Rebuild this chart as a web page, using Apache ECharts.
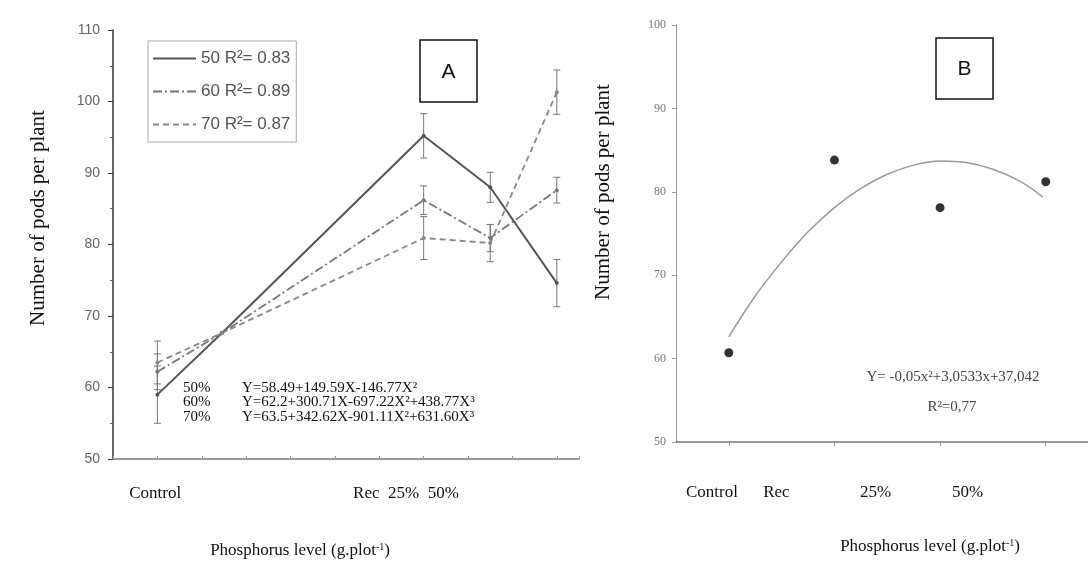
<!DOCTYPE html>
<html>
<head>
<meta charset="utf-8">
<script src="https://cdn.jsdelivr.net/npm/echarts@6/dist/echarts.min.js"></script>
<style>
  html, body { margin: 0; padding: 0; background: #fff; }
  #chart-panel { width: 1088px; height: 567px; }
</style>
</head>
<body>
<div id="chart-panel"></div>
<script>
// panel A : pods per plant for 50 / 60 / 70 % levels
var seriesNamesA = ['50 R\u00b2= 0.83', '60 R\u00b2= 0.89', '70 R\u00b2= 0.87'];
var xPosA = [1, 2.45, 7, 8.5, 10];
var pods50 = [59.0, 67.6, 95.2, 88.0, 74.6];
var pods60 = [62.2, 67.6, 86.2, 80.9, 87.6];
var pods70 = [63.5, 67.6, 80.9, 80.2, 101.3];
var err50 = [4.0, 0, 3.1, 2.1, 3.3];
var err60 = [2.5, 0, 2.0, 1.9, 1.8];
var err70 = [3.0, 0, 3.0, 2.6, 3.1];
var xLabelsA = ['Control', 'Rec  25%  50%'];
var xLabelPosA = [0.95, 6.6];
var equationsA = [
    ['50%', 'Y=58.49+149.59X-146.77X\u00b2'],
    ['60%', 'Y=62.2+300.71X-697.22X\u00b2+438.77X\u00b3'],
    ['70%', 'Y=63.5+342.62X-901.11X\u00b2+631.60X\u00b3']
];

var xPosB = [0, 1, 2, 3];
var podsB = [60.7, 83.8, 78.1, 81.2];
var curveX = [0, 0.25, 0.5, 0.75, 1.0, 1.25, 1.5, 1.75, 2.0, 2.25, 2.5, 2.75, 2.97];
var curveY = [62.6, 67.5, 71.6, 75.2, 78.1, 80.4, 82.1, 83.2, 83.7, 83.5, 82.7, 81.3, 79.4];
var xLabelsB = ['Control', 'Rec', '25%', '50%'];
var xLabelPosB = [-0.16, 0.45, 1.39, 2.26];

var myChart = echarts.init(document.getElementById('chart-panel'));

function pairs(xs, ys) {
    return xs.map(function (x, i) { return [x, ys[i]]; });
}
function errData(xs, ys, es) {
    var out = [];
    xs.forEach(function (x, i) {
        if (es[i] > 0) out.push([x, ys[i] - es[i], ys[i] + es[i]]);
    });
    return out;
}
function renderErr(params, api) {
    var x = api.value(0);
    var top = api.coord([x, api.value(2)]);
    var bot = api.coord([x, api.value(1)]);
    var w = 3.5;
    var st = { stroke: '#777', lineWidth: 1 };
    return {
        type: 'group',
        children: [
            { type: 'line', shape: { x1: top[0], y1: top[1], x2: bot[0], y2: bot[1] }, style: st },
            { type: 'line', shape: { x1: top[0] - w, y1: top[1], x2: top[0] + w, y2: top[1] }, style: st },
            { type: 'line', shape: { x1: bot[0] - w, y1: bot[1], x2: bot[0] + w, y2: bot[1] }, style: st }
        ]
    };
}

var lineStyles = [
    { color: '#555', width: 2, type: 'solid' },
    { color: '#777', width: 1.8, type: [9, 3, 2, 3] },
    { color: '#888', width: 1.8, type: [6, 4] }
];
var valuesA = [pods50, pods60, pods70];
var errsA = [err50, err60, err70];

var seriesA = [];
seriesNamesA.forEach(function (name, i) {
    seriesA.push({
        name: name,
        type: 'line',
        xAxisIndex: 0,
        yAxisIndex: 0,
        data: pairs(xPosA, valuesA[i]),
        symbol: 'circle',
        symbolSize: 4,
        itemStyle: { color: lineStyles[i].color },
        lineStyle: lineStyles[i],
        z: 3
    });
    seriesA.push({
        type: 'custom',
        xAxisIndex: 0,
        yAxisIndex: 0,
        data: errData(xPosA, valuesA[i], errsA[i]),
        encode: { x: 0, y: [1, 2] },
        renderItem: renderErr,
        z: 2
    });
});

var eqChildren = [
    { type: 'rect', shape: { x: 178, y: 377, width: 300, height: 48 }, style: { fill: '#fff' } }
];
equationsA.forEach(function (row, i) {
    var y = 388 + i * 14.5;
    var font = { fontFamily: 'Liberation Serif', fontSize: 15, fill: '#111', textVerticalAlign: 'middle' };
    eqChildren.push({ type: 'text', x: 183, y: y, style: Object.assign({ text: row[0] }, font) });
    eqChildren.push({ type: 'text', x: 242, y: y, style: Object.assign({ text: row[1] }, font) });
});

var titleFont = { fontFamily: 'Liberation Serif', fill: '#111', textAlign: 'center', textVerticalAlign: 'middle' };
var supRich = { s: { fontSize: 10, verticalAlign: 'top', fontFamily: 'Liberation Serif' } };

var option = {
    backgroundColor: '#fff',
    animation: false,
    grid: [
        { left: 113, top: 30, width: 466, height: 429 },
        { left: 676, top: 25, width: 412, height: 417 }
    ],
    legend: {
        data: seriesNamesA,
        orient: 'vertical',
        left: 148,
        top: 41,
        padding: [9, 6, 9, 4],
        itemWidth: 43,
        itemHeight: 14,
        itemGap: 16,
        borderColor: '#aaa',
        borderWidth: 1,
        itemStyle: { opacity: 0 },
        textStyle: { fontFamily: 'Liberation Sans', fontSize: 17, color: '#555' }
    },
    xAxis: [
        {
            type: 'value', gridIndex: 0, min: 0, max: 10.5, interval: 1,
            axisLine: { onZero: false, lineStyle: { color: '#999', width: 2 } },
            axisTick: { inside: true, length: 3, lineStyle: { color: '#999' } },
            splitLine: { show: false },
            axisLabel: {
                customValues: xLabelPosA,
                margin: 26,
                fontFamily: 'Liberation Serif',
                fontSize: 17,
                color: '#111',
                formatter: function (v) {
                    var i = xLabelPosA.indexOf(v);
                    return i >= 0 ? xLabelsA[i] : '';
                }
            }
        },
        {
            type: 'value', gridIndex: 1, min: -0.5, max: 3.4,
            axisLine: { onZero: false, lineStyle: { color: '#777', width: 1.5 } },
            axisTick: { customValues: xPosB, length: 4, lineStyle: { color: '#999' } },
            splitLine: { show: false },
            axisLabel: {
                customValues: xLabelPosB,
                margin: 42,
                fontFamily: 'Liberation Serif',
                fontSize: 17,
                color: '#111',
                formatter: function (v) {
                    var i = xLabelPosB.indexOf(v);
                    return i >= 0 ? xLabelsB[i] : '';
                }
            }
        }
    ],
    yAxis: [
        {
            type: 'value', gridIndex: 0, min: 50, max: 110, interval: 10,
            axisLine: { show: true, onZero: false, lineStyle: { color: '#333', width: 1.5 } },
            axisTick: { show: true, length: 5, lineStyle: { color: '#333' } },
            minorTick: { show: true, splitNumber: 2, length: 3, lineStyle: { color: '#555' } },
            splitLine: { show: false },
            axisLabel: { margin: 13, fontFamily: 'Liberation Sans', fontSize: 14, color: '#666' }
        },
        {
            type: 'value', gridIndex: 1, min: 50, max: 100, interval: 10,
            axisLine: { show: true, onZero: false, lineStyle: { color: '#999', width: 1 } },
            axisTick: { show: true, length: 4, lineStyle: { color: '#999' } },
            splitLine: { show: false },
            axisLabel: { margin: 10, fontFamily: 'Liberation Serif', fontSize: 12, color: '#777' }
        }
    ],
    series: seriesA.concat([
        {
            type: 'line',
            xAxisIndex: 1,
            yAxisIndex: 1,
            data: pairs(curveX, curveY),
            smooth: 0.4,
            symbol: 'none',
            lineStyle: { color: '#999', width: 1.5 },
            z: 2
        },
        {
            type: 'scatter',
            xAxisIndex: 1,
            yAxisIndex: 1,
            data: pairs(xPosB, podsB),
            symbolSize: 9,
            itemStyle: { color: '#000' },
            z: 3
        }
    ]),
    graphic: [
        { type: 'group', z: 100, children: eqChildren },
        // panel letters
        { type: 'rect', z: 100, shape: { x: 420, y: 40, width: 57, height: 62 }, style: { fill: '#fff', stroke: '#111', lineWidth: 1.5 } },
        { type: 'text', z: 101, x: 448.5, y: 72, style: { text: 'A', fontFamily: 'Liberation Sans', fontSize: 21, fill: '#111', textAlign: 'center', textVerticalAlign: 'middle' } },
        { type: 'rect', z: 100, shape: { x: 936, y: 38, width: 57, height: 61 }, style: { fill: '#fff', stroke: '#111', lineWidth: 1.5 } },
        { type: 'text', z: 101, x: 964.5, y: 69, style: { text: 'B', fontFamily: 'Liberation Sans', fontSize: 21, fill: '#111', textAlign: 'center', textVerticalAlign: 'middle' } },
        // axis titles
        { type: 'text', z: 100, x: 38, y: 218, rotation: Math.PI / 2, style: Object.assign({ text: 'Number of pods per plant', fontSize: 21 }, titleFont) },
        { type: 'text', z: 100, x: 603, y: 192, rotation: Math.PI / 2, style: Object.assign({ text: 'Number of pods per plant', fontSize: 21 }, titleFont) },
        { type: 'text', z: 100, x: 300, y: 551, style: Object.assign({ text: 'Phosphorus level (g.plot{s|-1})', rich: supRich, fontSize: 17 }, titleFont) },
        { type: 'text', z: 100, x: 930, y: 547, style: Object.assign({ text: 'Phosphorus level (g.plot{s|-1})', rich: supRich, fontSize: 17 }, titleFont) },
        // panel B equation
        { type: 'text', z: 100, x: 953, y: 377, style: { text: 'Y= -0,05x\u00b2+3,0533x+37,042', fontFamily: 'Liberation Serif', fontSize: 15, fill: '#444', textAlign: 'center', textVerticalAlign: 'middle' } },
        { type: 'text', z: 100, x: 952, y: 407, style: { text: 'R\u00b2=0,77', fontFamily: 'Liberation Serif', fontSize: 15, fill: '#444', textAlign: 'center', textVerticalAlign: 'middle' } }
    ]
};
myChart.setOption(option);
</script>
</body>
</html>
